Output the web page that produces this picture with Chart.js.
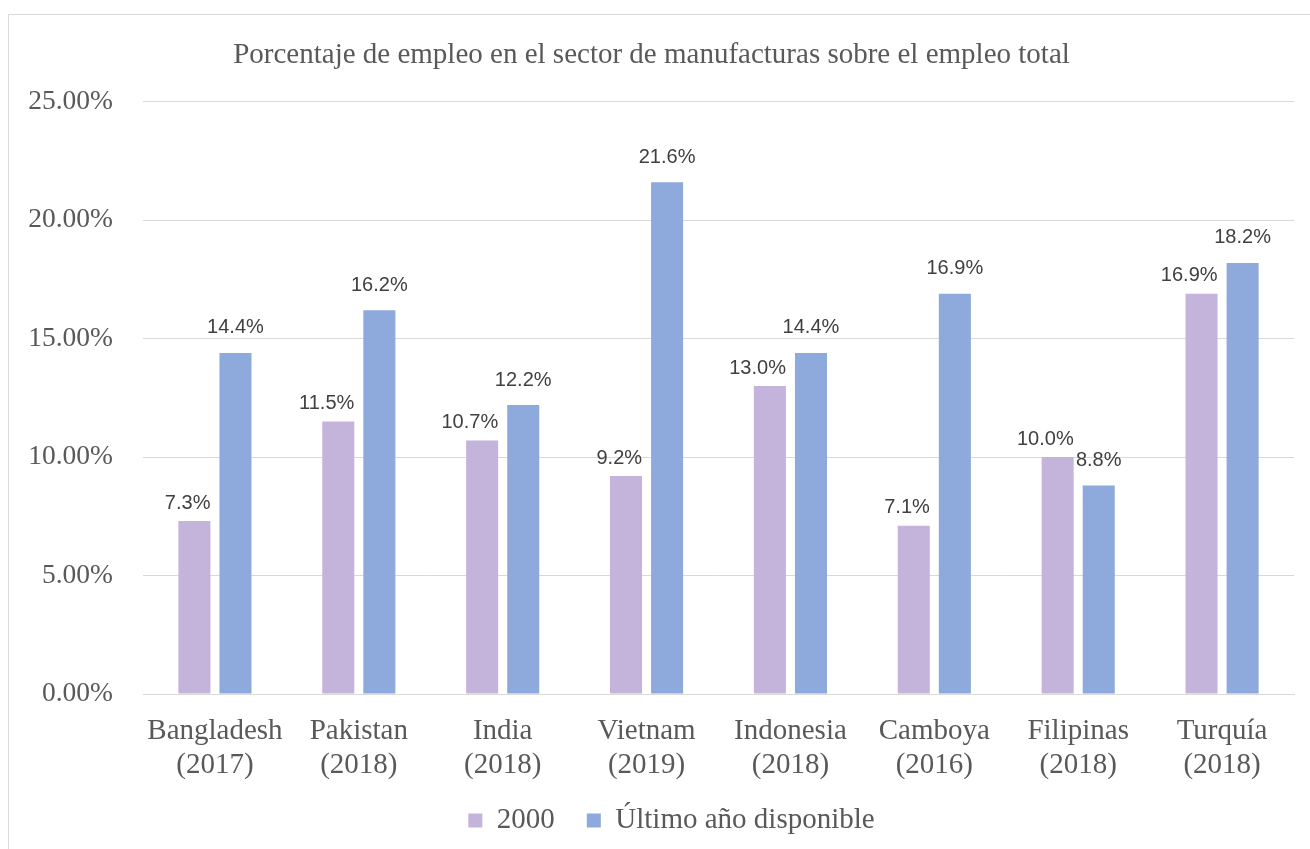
<!DOCTYPE html>
<html>
<head>
<meta charset="utf-8">
<script src="https://cdn.jsdelivr.net/npm/chart.js@4/dist/chart.umd.min.js"></script>
<style>
  body { margin: 0; background: #fff; }
  #wrap {
    position: absolute; left: 8px; top: 14px;
    width: 1302px; height: 835px;
    border-top: 1px solid #d9d9d9; border-left: 1px solid #d9d9d9;
  }
</style>
</head>
<body>
<div id="wrap"><canvas id="myChart"></canvas></div>
<script>
const categories = [
    ["Bangladesh", "(2017)"],
    ["Pakistan", "(2018)"],
    ["India", "(2018)"],
    ["Vietnam", "(2019)"],
    ["Indonesia", "(2018)"],
    ["Camboya", "(2016)"],
    ["Filipinas", "(2018)"],
    ["Turquía", "(2018)"]
];
const values2000 = [7.3, 11.5, 10.7, 9.2, 13.0, 7.1, 10.0, 16.9];
const valuesLast = [14.4, 16.2, 12.2, 21.6, 14.4, 16.9, 8.8, 18.2];
const yTicks = [0, 5, 10, 15, 20, 25];

const serif = "'Liberation Serif', 'Times New Roman', serif";
const grey = "#595959";

// labels over the bars (no datalabels plugin available)
const barLabels = {
    id: "barLabels",
    afterDatasetsDraw(chart) {
        const ctx = chart.ctx;
        ctx.save();
        ctx.font = "20px 'Liberation Sans', Arial, sans-serif";
        ctx.fillStyle = "#404040";
        ctx.textBaseline = "middle";
        chart.data.datasets.forEach((ds, i) => {
            const meta = chart.getDatasetMeta(i);
            meta.data.forEach((bar, j) => {
                const txt = ds.data[j].toFixed(1) + "%";
                if (i === 0) {
                    ctx.textAlign = "right";
                    ctx.fillText(txt, bar.x + bar.width / 2, bar.y - 18);
                } else {
                    ctx.textAlign = "center";
                    ctx.fillText(txt, bar.x, bar.y - 25);
                }
            });
        });
        ctx.restore();
    }
};

// legend sits a bit right of centre in the original
const legendShift = {
    id: "legendShift",
    afterLayout(chart) {
        chart.legend.left += 20;
        chart.legend.right += 20;
        chart.legend.top -= 6;
        chart.legend.bottom -= 6;
    }
};

const ctx = document.getElementById("myChart").getContext("2d");
const myChart = new Chart(ctx, {
    type: "bar",
    data: {
        labels: categories,
        datasets: [
            {
                label: "2000",
                data: values2000,
                backgroundColor: "#C4B4DC",
                categoryPercentage: 0.571,
                barPercentage: 0.78
            },
            {
                label: "Último año disponible",
                data: valuesLast,
                backgroundColor: "#8EA9DB",
                categoryPercentage: 0.571,
                barPercentage: 0.78
            }
        ]
    },
    options: {
        responsive: true,
        maintainAspectRatio: false,
        animation: false,
        layout: { padding: { top: 0, left: 0, right: 17, bottom: -1 } },
        plugins: {
            title: {
                display: true,
                text: "Porcentaje de empleo en el sector de manufacturas sobre el empleo total",
                color: grey,
                font: { family: serif, size: 29, weight: "normal" },
                padding: { top: 23, bottom: 29 }
            },
            legend: {
                position: "bottom",
                labels: {
                    color: grey,
                    font: { family: serif, size: 29 },
                    boxWidth: 14,
                    boxHeight: 14,
                    padding: 32
                }
            },
            tooltip: { enabled: false }
        },
        scales: {
            x: {
                grid: { display: false },
                border: { color: "#d9d9d9" },
                ticks: {
                    color: grey,
                    font: { family: serif, size: 29, lineHeight: 1.15 },
                    maxRotation: 0,
                    padding: 13
                },
                afterFit(scale) { scale.height = 86; }
            },
            y: {
                min: 0,
                max: 25,
                afterBuildTicks(scale) {
                    scale.ticks = yTicks.map(v => ({ value: v }));
                },
                grid: { color: "#d9d9d9", drawTicks: false },
                border: { display: false },
                ticks: {
                    color: grey,
                    font: { family: serif, size: 27.5 },
                    padding: 30,
                    callback: v => v.toFixed(2) + "%"
                },
                afterFit(scale) { scale.width = 134; }
            }
        }
    },
    plugins: [barLabels, legendShift]
});
</script>
</body>
</html>
